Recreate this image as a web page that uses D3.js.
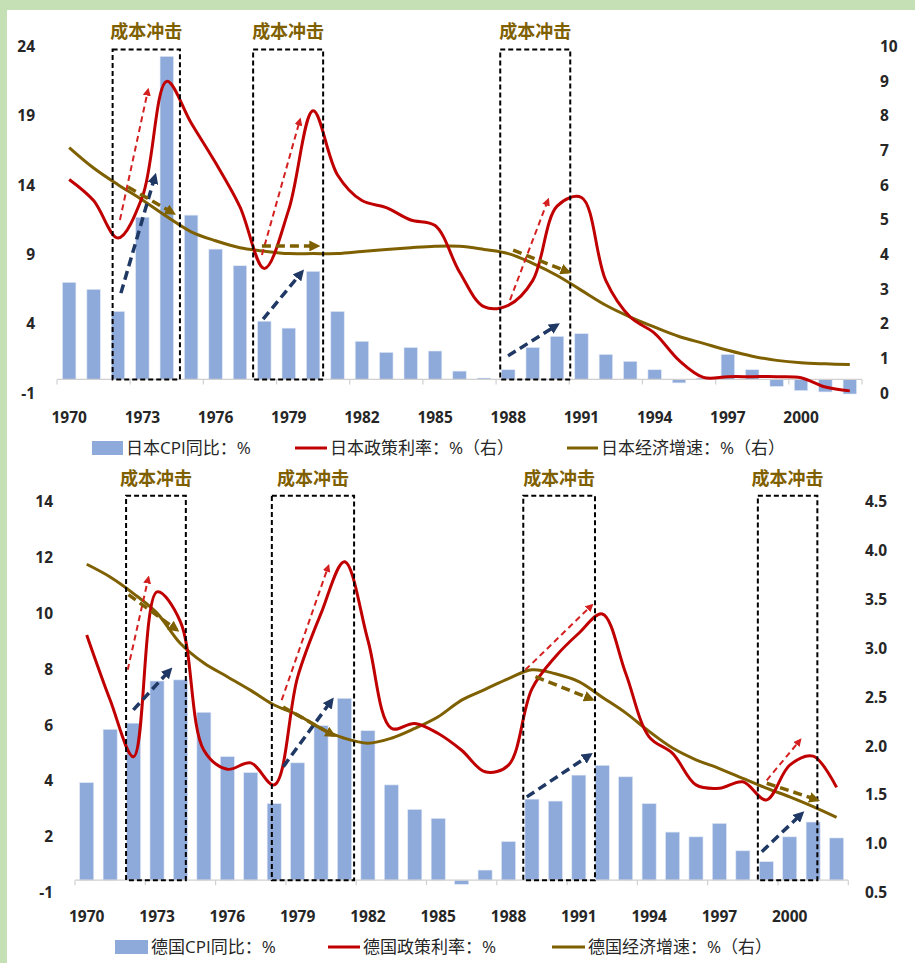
<!DOCTYPE html>
<html>
<head>
<meta charset="UTF-8">
<title>成本冲击：日本与德国</title>
<script src="https://d3js.org/d3.v7.min.js"></script>
<style>
  body { margin: 0; background: #fff; }
  svg text { font-family: "Open Sans", "Noto Sans CJK SC", sans-serif; }
</style>
</head>
<body>
<svg class="chart"></svg>
<script>
// ---- data ----
const years = [1970,1971,1972,1973,1974,1975,1976,1977,1978,1979,1980,1981,1982,1983,1984,1985,
  1986,1987,1988,1989,1990,1991,1992,1993,1994,1995,1996,1997,1998,1999,2000,2001,2002];

// Japan
const jpCpi = [7.0,6.5,4.9,11.7,23.3,11.85,9.4,8.2,4.2,3.7,7.8,4.9,2.75,1.95,2.3,2.05,
  0.6,0.1,0.7,2.3,3.1,3.3,1.8,1.3,0.7,-0.25,0.1,1.8,0.7,-0.5,-0.8,-0.9,-1.05];
const jpRate = [6.17,5.56,4.48,5.67,9.0,7.8,6.65,5.38,3.6,5.3,8.15,6.3,5.56,5.36,5.0,4.84,
  3.5,2.5,2.54,3.25,5.4,5.65,3.25,2.2,1.73,0.95,0.46,0.48,0.48,0.48,0.45,0.18,0.07];
const jpGrowth = [7.09,6.5,6.02,5.58,5.1,4.66,4.4,4.2,4.1,4.03,4.03,4.03,4.09,4.15,4.2,4.24,
  4.24,4.15,4.03,3.75,3.4,2.97,2.54,2.2,1.91,1.64,1.44,1.24,1.07,0.95,0.88,0.85,0.83];
const jpLeftTicks = [-1,4,9,14,19,24];
const jpRightTicks = [0,1,2,3,4,5,6,7,8,9,10];
const jpShocks = [[1971.78,1974.54],[1977.54,1980.41],[1987.67,1990.54]];
const jpArrows = [
  {kind:"rate",   from:[1972.08,5.0],  to:[1973.23,8.75]},
  {kind:"cpi",    from:[1972.12,2.89], to:[1973.52,6.27]},
  {kind:"growth", from:[1972.41,5.95], to:[1974.26,5.2]},
  {kind:"rate",   from:[1977.9,3.99],  to:[1979.46,7.89]},
  {kind:"cpi",    from:[1977.95,2.14], to:[1979.54,3.5]},
  {kind:"growth", from:[1977.9,4.25],  to:[1980.16,4.25]},
  {kind:"rate",   from:[1988.07,2.69], to:[1989.63,5.58]},
  {kind:"cpi",    from:[1987.99,1.08], to:[1990.0,1.97]},
  {kind:"growth", from:[1988.2,4.13],  to:[1990.46,3.5]}
];

// Germany
const deCpi = [3.94,5.85,6.07,7.58,7.62,6.46,4.87,4.3,3.19,4.65,5.98,6.96,5.8,3.86,2.98,2.66,
  0.3,0.81,1.83,3.35,3.28,4.21,4.56,4.15,3.19,2.17,2.0,2.48,1.5,1.11,2.0,2.53,1.96];
const deRate = [9.23,6.9,4.87,10.77,9.7,5.1,4.42,4.65,3.86,7.72,10.0,11.85,9.04,5.89,6.06,5.7,
  5.1,4.33,4.57,7.3,8.45,9.29,9.98,7.86,5.58,4.99,3.86,3.74,3.97,3.32,4.57,4.89,3.77];
const deGrowth = [3.86,3.73,3.56,3.36,3.05,2.85,2.71,2.57,2.42,2.32,2.18,2.08,2.03,2.08,2.18,2.30,
  2.47,2.58,2.69,2.78,2.74,2.66,2.5,2.34,2.15,1.98,1.86,1.77,1.67,1.57,1.48,1.38,1.27];
const deLeftTickLabels = ["-1","2","4","6","8","10","12","14"];
const deRightTicks = [0.5,1.0,1.5,2.0,2.5,3.0,3.5,4.0,4.5];
const deShocks = [[1971.68,1974.23],[1977.9,1981.41],[1988.63,1991.69],[1998.64,2001.18]];
const deArrows = [
  {kind:"rate",   from:[1971.75,2.78], to:[1972.63,3.72]},
  {kind:"growth", from:[1971.78,3.55], to:[1973.84,3.19]},
  {kind:"cpi",    from:[1971.99,2.37], to:[1973.56,2.78]},
  {kind:"rate",   from:[1978.32,2.47], to:[1980.31,3.84]},
  {kind:"cpi",    from:[1978.39,1.79], to:[1980.46,2.47]},
  {kind:"growth", from:[1978.38,2.4],  to:[1980.52,2.11]},
  {kind:"rate",   from:[1988.72,2.78], to:[1991.55,3.44]},
  {kind:"growth", from:[1989.15,2.71], to:[1991.55,2.48]},
  {kind:"cpi",    from:[1988.78,1.48], to:[1991.48,1.91]},
  {kind:"rate",   from:[1999.02,1.65], to:[2000.44,2.06]},
  {kind:"growth", from:[1999.02,1.62], to:[2001.16,1.45]},
  {kind:"cpi",    from:[1998.81,0.92], to:[2000.52,1.31]}
];

const shockLabel = "成本冲击";

// ---- styles ----
const width = 915, height = 963;
const barColor = "#8eaadb";
const red = "#c00000";
const olive = "#7f6000";
const navy = "#203864";
const textColor = "#262626";

const arrowStyle = {
  rate:   {color: "#d42020", width: 2,   dash: "6,4", head: 8},
  cpi:    {color: navy,      width: 3.5, dash: "9,5", head: 11},
  growth: {color: olive,     width: 3.5, dash: "9,5", head: 11}
};

const svg = d3.select(".chart")
  .attr("width", width)
  .attr("height", height);

// frame
svg.append("rect").attr("width", width).attr("height", height).attr("fill", "#fff");
svg.append("rect").attr("width", width).attr("height", 10).attr("fill", "#c5e0b4");
svg.append("rect").attr("width", 7).attr("height", height).attr("fill", "#c5e0b4");

// arrow heads
const defs = svg.append("defs");
Object.keys(arrowStyle).forEach(k => {
  const s = arrowStyle[k];
  defs.append("marker")
    .attr("id", "head-" + k)
    .attr("viewBox", "0 0 10 10")
    .attr("refX", 7).attr("refY", 5)
    .attr("markerUnits", "userSpaceOnUse")
    .attr("markerWidth", s.head).attr("markerHeight", s.head)
    .attr("orient", "auto")
    .append("path")
    .attr("d", "M0,0 L10,5 L0,10 z")
    .attr("fill", s.color);
});

// plain hyphen for negatives, like the original
const plain = d => String(d);

function drawPanel(cfg) {
  const g = svg.append("g");

  const x = d3.scaleBand().domain(years).range(cfg.xRange)
    .paddingInner(cfg.pad).paddingOuter(cfg.pad / 2);
  const bw = x.bandwidth();
  const step = x.step();
  const xYear = d3.scaleLinear()
    .domain([years[0], years[years.length - 1]])
    .range([x(years[0]) + bw / 2, x(years[years.length - 1]) + bw / 2]);

  const yL = d3.scaleLinear().domain(cfg.leftDomain).range(cfg.yRange);
  const yR = d3.scaleLinear().domain(cfg.rightDomain).range(cfg.yRange);
  const base = yL(cfg.base);

  // bars
  g.selectAll(".bar")
    .data(years.map((yr, i) => ({year: yr, v: cfg.cpi[i]})))
    .enter().append("rect")
    .attr("class", "bar")
    .attr("x", d => x(d.year))
    .attr("width", bw)
    .attr("y", d => Math.min(yL(d.v), base))
    .attr("height", d => Math.abs(base - yL(d.v)))
    .attr("fill", barColor)
    .attr("stroke", "#dfe7f5")
    .attr("stroke-width", 0.6);

  // category axis line + tick marks every 3 years
  g.append("line")
    .attr("x1", cfg.xRange[0]).attr("x2", cfg.xRange[1])
    .attr("y1", base).attr("y2", base)
    .attr("stroke", "#d0d0d0").attr("stroke-width", 1.2);
  g.selectAll(".xtick")
    .data(d3.range(0, years.length + 1, 3))
    .enter().append("line")
    .attr("x1", i => cfg.xRange[0] + i * step)
    .attr("x2", i => cfg.xRange[0] + i * step)
    .attr("y1", base).attr("y2", base + 5)
    .attr("stroke", "#d0d0d0").attr("stroke-width", 1.2);

  const fs = 15.5;
  const xAxis = g.append("g")
    .attr("transform", `translate(0, ${cfg.yearY - 0.36 * fs})`)
    .call(d3.axisBottom(x).tickValues(years.filter((d, i) => i % 3 === 0))
      .tickSize(0).tickPadding(0));
  xAxis.select(".domain").remove();

  const leftAxis = g.append("g")
    .attr("transform", `translate(${cfg.leftX}, 0)`)
    .call(d3.axisLeft(yL).tickValues(cfg.leftTicks).tickFormat(cfg.leftFormat)
      .tickSize(0).tickPadding(0));
  leftAxis.select(".domain").remove();

  const rightAxis = g.append("g")
    .attr("transform", `translate(${cfg.rightX}, 0)`)
    .call(d3.axisRight(yR).tickValues(cfg.rightTicks).tickFormat(cfg.rightFormat)
      .tickSize(0).tickPadding(0));
  rightAxis.select(".domain").remove();

  [xAxis, leftAxis, rightAxis].forEach(a => a.selectAll("text")
    .attr("font-family", "'Open Sans', sans-serif")
    .attr("font-size", fs)
    .attr("font-weight", 700)
    .attr("fill", textColor));

  // lines
  const rateScale = cfg.rateOnRight ? yR : yL;
  const line = s => d3.line()
    .x((d, i) => xYear(years[i]))
    .y(d => s(d))
    .curve(d3.curveCatmullRom.alpha(0.5));

  g.append("path").datum(cfg.growth)
    .attr("d", line(yR))
    .attr("fill", "none").attr("stroke", olive).attr("stroke-width", 3);
  g.append("path").datum(cfg.rate)
    .attr("d", line(rateScale))
    .attr("fill", "none").attr("stroke", red).attr("stroke-width", 3);

  // shock boxes
  cfg.shocks.forEach(s => {
    const x0 = xYear(s[0]), x1 = xYear(s[1]);
    const top = yR(cfg.boxTop);
    g.append("rect")
      .attr("x", x0).attr("y", top)
      .attr("width", x1 - x0).attr("height", base - top)
      .attr("fill", "none")
      .attr("stroke", "#000").attr("stroke-width", 2)
      .attr("stroke-dasharray", "5,3");
    g.append("text")
      .attr("x", (x0 + x1) / 2).attr("y", cfg.labelY)
      .attr("dy", "0.36em")
      .attr("text-anchor", "middle")
      .attr("font-family", "'Noto Sans CJK SC', sans-serif")
      .attr("font-size", 18).attr("font-weight", 700)
      .attr("fill", olive)
      .text(shockLabel);
  });

  // arrows
  cfg.arrows.forEach(a => {
    const s = arrowStyle[a.kind];
    g.append("line")
      .attr("x1", xYear(a.from[0])).attr("y1", yR(a.from[1]))
      .attr("x2", xYear(a.to[0])).attr("y2", yR(a.to[1]))
      .attr("stroke", s.color).attr("stroke-width", s.width)
      .attr("stroke-dasharray", s.dash)
      .attr("marker-end", `url(#head-${a.kind})`);
  });

  // legend
  const lg = g.append("g").attr("transform", `translate(0, ${cfg.legendY})`);
  const L = cfg.legend;
  lg.append("rect")
    .attr("x", L[0].x).attr("y", -7).attr("width", L[0].w).attr("height", 14)
    .attr("fill", barColor);
  lg.append("line")
    .attr("x1", L[1].x).attr("x2", L[1].x + L[1].w).attr("y1", 0).attr("y2", 0)
    .attr("stroke", red).attr("stroke-width", 3);
  lg.append("line")
    .attr("x1", L[2].x).attr("x2", L[2].x + L[2].w).attr("y1", 0).attr("y2", 0)
    .attr("stroke", olive).attr("stroke-width", 3);
  lg.selectAll(".lt").data(L).enter().append("text")
    .attr("x", d => d.x + d.w + 3)
    .attr("y", 0).attr("dy", "0.36em")
    .attr("font-family", "'Noto Sans CJK SC', sans-serif")
    .attr("font-size", 17)
    .attr("fill", textColor)
    .text(d => d.label);
}

// Japan panel
drawPanel({
  xRange: [57, 862], pad: 0.45,
  yRange: [393.3, 46.7],
  leftDomain: [-1, 24], rightDomain: [0, 10], base: 0,
  leftTicks: jpLeftTicks, leftFormat: plain,
  rightTicks: jpRightTicks, rightFormat: plain,
  leftX: 35, rightX: 880,
  yearY: 418, labelY: 32, legendY: 448, boxTop: 9.92,
  cpi: jpCpi, rate: jpRate, growth: jpGrowth, rateOnRight: true,
  shocks: jpShocks, arrows: jpArrows,
  legend: [
    {x: 92, w: 31, label: "日本CPI同比：%"},
    {x: 295, w: 32, label: "日本政策利率：%（右）"},
    {x: 567, w: 31, label: "日本经济增速：%（右）"}
  ]
});

// Germany panel
drawPanel({
  xRange: [75, 848.3], pad: 0.4,
  yRange: [892.7, 501.7],
  leftDomain: [0, 14], rightDomain: [0.5, 4.5], base: 0.45,
  leftTicks: deLeftTickLabels.map((d, i) => i * 2),
  leftFormat: d => deLeftTickLabels[d / 2],
  rightTicks: deRightTicks, rightFormat: d3.format(".1f"),
  leftX: 53, rightX: 865,
  yearY: 916.7, labelY: 478.5, legendY: 947, boxTop: 4.56,
  cpi: deCpi, rate: deRate, growth: deGrowth, rateOnRight: false,
  shocks: deShocks, arrows: deArrows,
  legend: [
    {x: 115, w: 33, label: "德国CPI同比：%"},
    {x: 328, w: 32, label: "德国政策利率：%"},
    {x: 552, w: 33, label: "德国经济增速：%（右）"}
  ]
});
</script>
</body>
</html>
